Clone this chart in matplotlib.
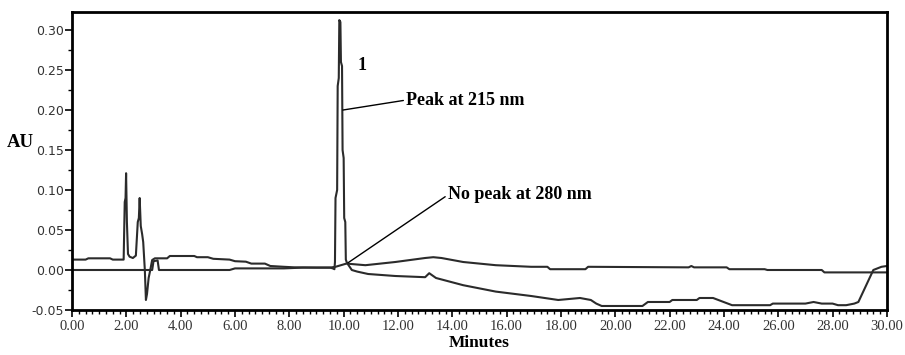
import numpy as np
import matplotlib
matplotlib.use('Agg')
import matplotlib.pyplot as plt
from matplotlib.ticker import MultipleLocator, FormatStrFormatter

# trace recorded at 215 nm (minutes, AU)
t_215 = [0.0, 0.5, 0.6, 1.4, 1.5, 1.90, 1.94, 1.97, 1.99, 2.02, 2.06, 2.12, 2.24,
         2.35, 2.42, 2.46, 2.49, 2.53, 2.58, 2.62, 2.68, 2.72, 2.76, 2.82, 2.88,
         2.95, 3.05, 3.5, 3.6, 4.5, 4.6, 5.0, 5.2, 5.8, 6.0, 6.4, 6.6, 7.1, 7.3,
         7.8, 8.2, 9.0, 9.5, 9.60, 9.66, 9.68, 9.70, 9.76, 9.78, 9.82, 9.84, 9.88,
         9.90, 9.94, 9.96, 10.0, 10.02, 10.06, 10.08, 10.12, 10.3, 10.5, 10.9,
         11.9, 13.0, 13.15, 13.4, 14.4, 15.6, 16.9, 17.9, 18.7, 19.1, 19.3, 19.5,
         21.0, 21.2, 22.0, 22.1, 23.0, 23.1, 23.6, 24.3, 25.7, 25.8, 27.0, 27.3,
         27.6, 28.0, 28.2, 28.5, 28.8, 28.95, 29.5, 29.8, 30.0]
au_215 = [0.013, 0.013, 0.0146, 0.0146, 0.013, 0.013, 0.085, 0.09, 0.121, 0.06,
          0.02, 0.0166, 0.015, 0.018, 0.06, 0.065, 0.09, 0.055, 0.045, 0.035,
          0.0, -0.0375, -0.03, -0.01, 0.0, 0.0125, 0.0146, 0.0146, 0.0175,
          0.0175, 0.016, 0.016, 0.014, 0.013, 0.011, 0.0104, 0.008, 0.008, 0.005,
          0.004, 0.0033, 0.003, 0.003, 0.002, 0.001, 0.01, 0.09, 0.10, 0.23,
          0.24, 0.3125, 0.31, 0.26, 0.255, 0.15, 0.14, 0.065, 0.06, 0.013, 0.009,
          0.0, -0.002, -0.005, -0.0075, -0.009, -0.004, -0.010, -0.019, -0.027,
          -0.0325, -0.0375, -0.035, -0.0375, -0.042, -0.045, -0.045, -0.040,
          -0.040, -0.0375, -0.0375, -0.035, -0.035, -0.044, -0.044, -0.042,
          -0.042, -0.040, -0.042, -0.042, -0.044, -0.044, -0.042, -0.040, 0.0,
          0.004, 0.005]

# trace recorded at 280 nm
t_280 = [0.0, 2.95, 3.0, 3.15, 3.2, 5.8, 6.0, 7.8, 8.5, 9.5, 9.7, 10.1, 10.8,
         11.9, 13.0, 13.3, 13.6, 14.4, 15.6, 16.9, 17.5, 17.6, 18.9, 19.0, 22.7,
         22.8, 22.9, 24.1, 24.2, 25.5, 25.6, 27.6, 27.7, 30.0]
au_280 = [0.0, 0.0, 0.011, 0.012, 0.0, 0.0, 0.002, 0.002, 0.003, 0.003, 0.004,
          0.008, 0.006, 0.010, 0.015, 0.016, 0.015, 0.010, 0.006, 0.004, 0.004,
          0.001, 0.001, 0.004, 0.0033, 0.005, 0.0033, 0.0033, 0.001, 0.001, 0.0,
          0.0, -0.003, -0.003]

x_ticks = np.arange(0, 30.01, 2)
y_ticks = [-0.05, 0.0, 0.05, 0.10, 0.15, 0.20, 0.25, 0.30]

serif = 'Liberation Serif'
line_col = '#2b2b2b'

fig = plt.figure(figsize=(9.05, 3.55), dpi=100)
ax = fig.add_axes([0.0796, 0.1268, 0.9004, 0.8392])

ax.plot(t_215, au_215, color=line_col, lw=1.5)
ax.plot(t_280, au_280, color=line_col, lw=1.5)

ax.set_xlim(0, 30)
ax.set_ylim(-0.05, 0.3225)
ax.set_xticks(x_ticks)
ax.set_yticks(y_ticks)
ax.xaxis.set_minor_locator(MultipleLocator(0.25))
ax.yaxis.set_minor_locator(MultipleLocator(0.025))
ax.xaxis.set_major_formatter(FormatStrFormatter('%.2f'))
ax.yaxis.set_major_formatter(FormatStrFormatter('%.2f'))
ax.tick_params(which='major', length=5, width=1.2, color='black')
ax.tick_params(which='minor', length=3, width=1.0, color='black')
ax.tick_params(axis='x', labelsize=10.5, labelcolor='#333333', pad=2)
ax.tick_params(axis='y', labelsize=9, labelcolor='#333333', pad=1)
for lab in ax.get_xticklabels():
    lab.set_family(serif)
for sp in ax.spines.values():
    sp.set_linewidth(2)

ax.set_xlabel('Minutes', family=serif, fontweight='bold', fontsize=12.5, labelpad=2)
ax.set_ylabel('AU', family=serif, fontweight='bold', fontsize=13.5, rotation=0,
              labelpad=0)
ax.yaxis.set_label_coords(-0.063, 0.535)

# annotations
ax.text(10.67, 0.256, '1', family=serif, fontweight='bold', fontsize=13,
        ha='center', va='center')
ax.annotate('Peak at 215 nm', xy=(9.97, 0.2), xytext=(12.3, 0.2125),
            family=serif, fontweight='bold', fontsize=13, va='center',
            arrowprops=dict(arrowstyle='-', color='black', lw=1.0,
                            shrinkA=0, shrinkB=0, relpos=(0, 0.5)))
ax.annotate('No peak at 280 nm', xy=(10.16, 0.009), xytext=(13.84, 0.094),
            family=serif, fontweight='bold', fontsize=13, va='center',
            arrowprops=dict(arrowstyle='-', color='black', lw=1.0,
                            shrinkA=0, shrinkB=0, relpos=(0, 0.5)))

plt.savefig('out.png', dpi=100)
